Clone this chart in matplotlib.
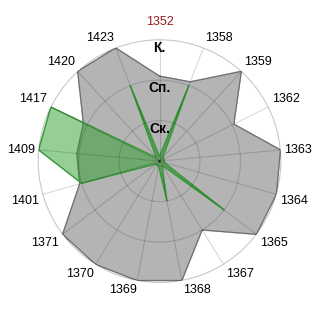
import numpy as np, matplotlib
matplotlib.use("Agg")
import matplotlib.pyplot as plt

# ---- radar of levels (Ск. / Сп. / К.) per year ----
cats = ["1352","1358","1359","1362","1363","1364","1365","1367","1368",
        "1369","1370","1371","1401","1409","1417","1420","1423"]
gray_vals = [2.1,2.1,3,2.05,3,3,3,2,3,3,3,3,2.05,2.05,2.1,3,3]
green_vals = [0.12,2,0.12,0.12,0.12,0.12,2,0.12,1,0.12,0.12,0.12,2,3,3,0.12,2]
level_ticks = [1,2,3]
level_labels = ["Ск.","Сп.","К."]
highlight = "1352"

plt.rcParams["font.family"] = ["Liberation Sans","DejaVu Sans"]
fig = plt.figure(figsize=(3.2,3.2), dpi=100)
ax = fig.add_axes([0.119,0.117,0.759,0.759], projection="polar")
ax.set_theta_zero_location("N"); ax.set_theta_direction(-1)
th = np.linspace(0, 2*np.pi, len(cats), endpoint=False)
thc = np.append(th, th[0])

g = np.array(gray_vals); gc = np.append(g, g[0])
ax.fill(thc, gc, color="#b4b4b4", zorder=1)
ax.plot(thc, gc, color="#707070", lw=0.9, zorder=1.5)
e = np.array(green_vals); ec = np.append(e, e[0])
ax.fill(thc, ec, color="#2ca02c", alpha=0.5, zorder=1.6)
ax.plot(thc, ec, color="#3a9a3a", lw=0.9, zorder=1.7)

ax.set_ylim(0,3)
ax.set_xticks(th); ax.set_xticklabels([])
ax.set_yticks(level_ticks); ax.set_yticklabels([])
ax.tick_params(length=0)
ax.set_axisbelow(False)
ax.grid(color="black", alpha=0.15, lw=0.8)
ax.spines["polar"].set_color((0,0,0,0.15)); ax.spines["polar"].set_linewidth(0.8)

for t, c in zip(th, cats):
    s, co = np.sin(t), np.cos(t)
    ha = "left" if s > 0.1 else ("right" if s < -0.1 else "center")
    va = "bottom" if co > 0.1 else ("top" if co < -0.1 else "center")
    r = 3.3 if c == highlight else 3.1
    ax.text(t, r, c, ha=ha, va=va, fontsize=9,
            color="#9b1c1c" if c == highlight else "black", clip_on=False)

for r, lb in zip(level_ticks, level_labels):
    ax.text(0, r-0.03, lb, ha="center", va="top", fontsize=10, fontweight="bold", zorder=5)

plt.savefig("out.png", dpi=100, facecolor="white")
